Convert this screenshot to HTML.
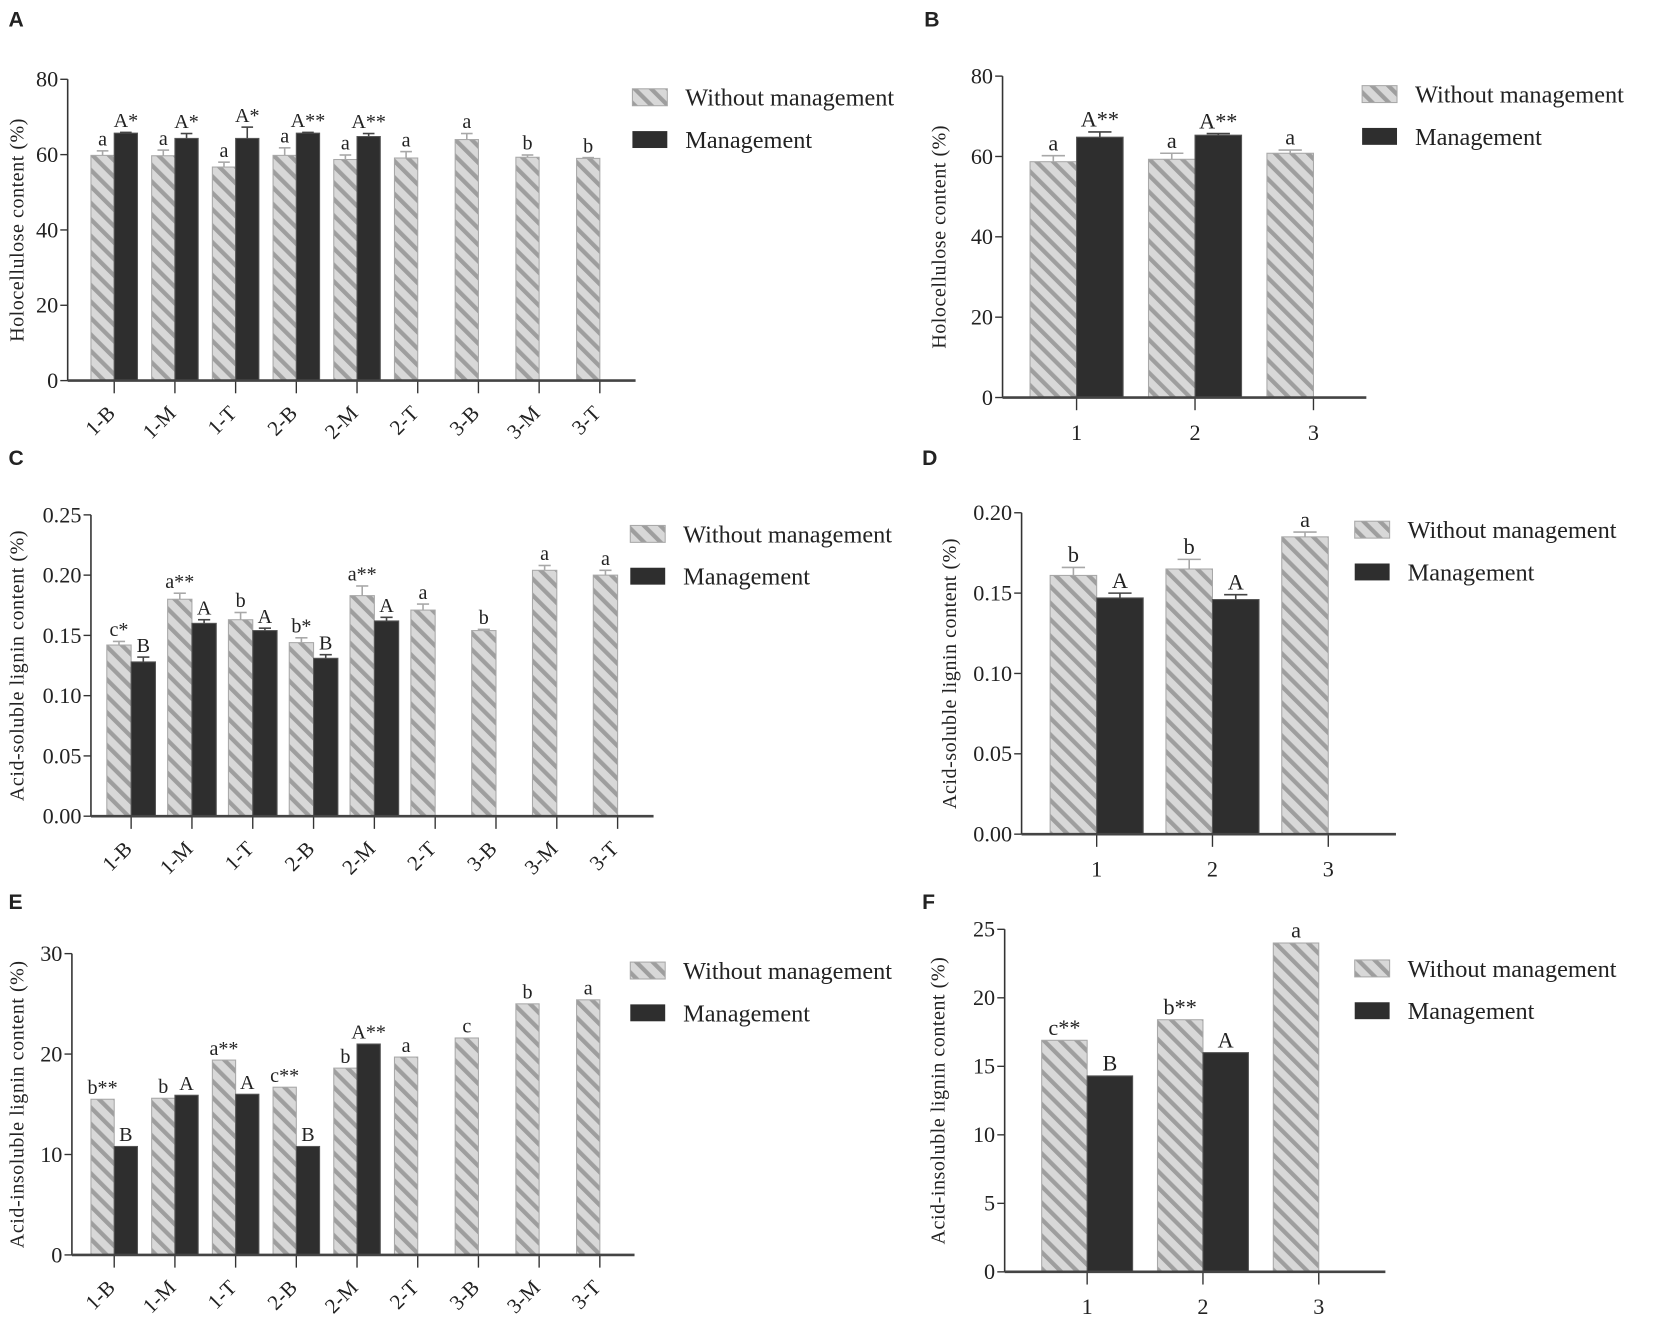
<!DOCTYPE html>
<html><head><meta charset="utf-8"><style>
html,body{margin:0;padding:0;background:#fff;}
svg{display:block;}
text{font-family:"Liberation Serif",serif;fill:#222;}
.lt{font-family:"Liberation Sans",sans-serif;font-weight:bold;font-size:20px;}
</style></head><body>
<svg id="fig" width="1654" height="1330" viewBox="0 0 1564 1258" preserveAspectRatio="none" xmlns="http://www.w3.org/2000/svg">
<defs>
<pattern id="hatch" patternUnits="userSpaceOnUse" width="11" height="11" patternTransform="rotate(-45)">
<rect width="11" height="11" fill="#d8d8d8"/>
<rect x="0" y="0" width="4" height="11" fill="#9e9e9e"/>
</pattern>
</defs>
</svg>
<script>
// Panel A
const aCats=["1-B","1-M","1-T","2-B","2-M","2-T","3-B","3-M","3-T"];
const aWithout=[59.8,59.7,56.7,59.8,58.7,59.1,64.0,59.3,59.0];
const aWithoutErr=[1.2,1.5,1.3,2.0,1.2,1.7,1.6,0.6,0.2];
const aMgmt=[65.7,64.3,64.3,65.7,64.8];
const aMgmtErr=[0.2,1.3,3.0,0.2,0.8];
const aLabW=["a","a","a","a","a","a","a","b","b"];
const aLabM=["A*","A*","A*","A**","A**"];
const aTicks=[0,20,40,60,80];
// Panel B
const bCats=["1","2","3"];
const bWithout=[58.7,59.3,60.8];
const bWithoutErr=[1.5,1.5,0.8];
const bMgmt=[64.8,65.3];
const bMgmtErr=[1.3,0.4];
const bLabW=["a","a","a"];
const bLabM=["A**","A**"];
const bTicks=[0,20,40,60,80];
// Panel C
const cCats=["1-B","1-M","1-T","2-B","2-M","2-T","3-B","3-M","3-T"];
const cWithout=[0.142,0.180,0.163,0.144,0.183,0.171,0.154,0.204,0.200];
const cWithoutErr=[0.003,0.005,0.006,0.004,0.008,0.005,0.001,0.004,0.004];
const cMgmt=[0.128,0.160,0.154,0.131,0.162];
const cMgmtErr=[0.004,0.003,0.002,0.003,0.003];
const cLabW=["c*","a**","b","b*","a**","a","b","a","a"];
const cLabM=["B","A","A","B","A"];
const cTicks=[0,0.05,0.10,0.15,0.20,0.25];
// Panel D
const dCats=["1","2","3"];
const dWithout=[0.161,0.165,0.185];
const dWithoutErr=[0.005,0.006,0.003];
const dMgmt=[0.147,0.146];
const dMgmtErr=[0.003,0.003];
const dLabW=["b","b","a"];
const dLabM=["A","A"];
const dTicks=[0,0.05,0.10,0.15,0.20];
// Panel E
const eCats=["1-B","1-M","1-T","2-B","2-M","2-T","3-B","3-M","3-T"];
const eWithout=[15.5,15.6,19.4,16.7,18.6,19.7,21.6,25.0,25.4];
const eWithoutErr=[0,0,0,0,0,0,0,0,0];
const eMgmt=[10.8,15.9,16.0,10.8,21.0];
const eMgmtErr=[0,0,0,0,0];
const eLabW=["b**","b","a**","c**","b","a","c","b","a"];
const eLabM=["B","A","A","B","A**"];
const eTicks=[0,10,20,30];
// Panel F
const fCats=["1","2","3"];
const fWithout=[16.9,18.4,24.0];
const fWithoutErr=[0,0,0];
const fMgmt=[14.3,16.0];
const fMgmtErr=[0,0];
const fLabW=["c**","b**","a"];
const fLabM=["B","A"];
const fTicks=[0,5,10,15,20,25];

const svg=document.getElementById('fig');
const NS="http://www.w3.org/2000/svg";
function mk(tag,attrs,parent){const e=document.createElementNS(NS,tag);for(const k in attrs)e.setAttribute(k,attrs[k]);(parent||svg).appendChild(e);return e;}

function panel(o){
  const g=mk('g',{});
  
  
  const y=v=>o.y0-(v/o.max)*(o.y0-o.yTop);
  const x=i=>o.x1+i*o.step;
  const L=mk('text',{x:o.lx,y:o.ly,class:'lt'},g);L.textContent=o.id.toUpperCase();
  
  
  o.cats.forEach((c,i)=>{
    const cx=x(i);
    const vw=o.w[i];
    const r=mk('rect',{x:cx-o.bw,y:y(vw),width:o.bw,height:o.y0-y(vw),fill:'url(#hatch)',stroke:'#a8a8a8','stroke-width':1},g);
    
    
    let top=y(vw);
    if(o.we[i]>0){const ty=y(vw+o.we[i]);const cxm=cx-o.bw/2;
      mk('line',{x1:cxm,x2:cxm,y1:top,y2:ty,stroke:'#a8a8a8','stroke-width':1.5},g);
      mk('line',{x1:cxm-o.bw/4,x2:cxm+o.bw/4,y1:ty,y2:ty,stroke:'#a8a8a8','stroke-width':1.5},g);top=ty;}
    const t=mk('text',{x:cx-o.bw/2,y:top-5,'font-size':o.lf,'text-anchor':'middle'},g);t.textContent=o.lw[i];
    
    
    if(i<o.m.length){
      const vm=o.m[i];
      const r2=mk('rect',{x:cx,y:y(vm),width:o.bw,height:o.y0-y(vm),fill:'#2e2e2e',stroke:'#555','stroke-width':1},g);
      
      
      let top2=y(vm);
      if(o.me[i]>0){const ty=y(vm+o.me[i]);const cxm=cx+o.bw/2;
        mk('line',{x1:cxm,x2:cxm,y1:top2,y2:ty,stroke:'#444','stroke-width':1.5},g);
        mk('line',{x1:cxm-o.bw/4,x2:cxm+o.bw/4,y1:ty,y2:ty,stroke:'#444','stroke-width':1.5},g);top2=ty;}
      const t2=mk('text',{x:cx+o.bw/2,y:top2-5,'font-size':o.lf,'text-anchor':'middle'},g);t2.textContent=o.lm[i];
      
      
    }
    mk('line',{x1:cx,x2:cx,y1:o.y0,y2:o.y0+12,stroke:'#333','stroke-width':1.3},g);
    const xl=o.rot?mk('text',{x:cx+2,y:o.y0+32,'font-size':20,'text-anchor':'end',transform:`rotate(-45 ${cx+2} ${o.y0+32})`},g)
                  :mk('text',{x:cx,y:o.y0+40,'font-size':21,'text-anchor':'middle'},g);
    xl.textContent=c;
    
    
  });
  const ya=mk('line',{x1:o.ax,x2:o.ax,y1:o.yTop,y2:o.y0,stroke:'#333','stroke-width':1.5},g);
  
  const xa=mk('line',{x1:o.ax,x2:o.axEnd,y1:o.y0,y2:o.y0,stroke:'#444','stroke-width':2.5},g);
  
  o.ticks.forEach(v=>{
    mk('line',{x1:o.ax-7,x2:o.ax,y1:y(v),y2:y(v),stroke:'#333','stroke-width':1.3},g);
    const tl=mk('text',{x:o.ax-9,y:y(v)+7,'font-size':21,'text-anchor':'end'},g);
    tl.textContent=o.fmt(v);
    
    
  });
  const yt=mk('text',{x:o.ytx,y:(o.y0+o.yTop)/2,'font-size':19,'text-anchor':'middle','letter-spacing':'0.5',transform:`rotate(-90 ${o.ytx} ${(o.y0+o.yTop)/2})`},g);
  yt.textContent=o.title;
  
  
  const lg=mk('g',{},g);
  
  
  mk('rect',{x:o.legX,y:o.legY,width:33,height:16,fill:'url(#hatch)',stroke:'#a8a8a8'},lg);
  const l1=mk('text',{x:o.legX+50,y:o.legY+16,'font-size':23},lg);l1.textContent='Without management';
  
  
  mk('rect',{x:o.legX,y:o.legY+40,width:33,height:16,fill:'#2e2e2e'},lg);
  const l2=mk('text',{x:o.legX+50,y:o.legY+56,'font-size':23},lg);l2.textContent='Management';
  
  
}
const f0=v=>String(v), f2=v=>v.toFixed(2);
panel({id:'a',cats:aCats,w:aWithout,we:aWithoutErr,m:aMgmt,me:aMgmtErr,lw:aLabW,lm:aLabM,ticks:aTicks,max:80,fmt:f0,
  ax:64,axEnd:601,y0:360,yTop:75,x1:108,step:57.4,bw:22,rot:true,lf:19,ytx:22,title:'Holocellulose content (%)',
  lx:8,ly:25,legX:598,legY:84});
panel({id:'b',cats:bCats,w:bWithout,we:bWithoutErr,m:bMgmt,me:bMgmtErr,lw:bLabW,lm:bLabM,ticks:bTicks,max:80,fmt:f0,
  ax:948,axEnd:1292,y0:376,yTop:72,x1:1018,step:112,bw:44,rot:false,lf:21,ytx:894,title:'Holocellulose content (%)',
  lx:874,ly:25,legX:1288,legY:81});
panel({id:'c',cats:cCats,w:cWithout,we:cWithoutErr,m:cMgmt,me:cMgmtErr,lw:cLabW,lm:cLabM,ticks:cTicks,max:0.25,fmt:f2,
  ax:86,axEnd:618,y0:772,yTop:487,x1:124,step:57.5,bw:23,rot:true,lf:19,ytx:22,title:'Acid-soluble lignin content (%)',
  lx:8,ly:440,legX:596,legY:497});
panel({id:'d',cats:dCats,w:dWithout,we:dWithoutErr,m:dMgmt,me:dMgmtErr,lw:dLabW,lm:dLabM,ticks:dTicks,max:0.20,fmt:f2,
  ax:966,axEnd:1320,y0:789,yTop:485,x1:1037,step:109.5,bw:44,rot:false,lf:21,ytx:904,title:'Acid-soluble lignin content (%)',
  lx:872,ly:440,legX:1281,legY:493});
panel({id:'e',cats:eCats,w:eWithout,we:eWithoutErr,m:eMgmt,me:eMgmtErr,lw:eLabW,lm:eLabM,ticks:eTicks,max:30,fmt:f0,
  ax:68,axEnd:600,y0:1187,yTop:902,x1:108,step:57.4,bw:22,rot:true,lf:19,ytx:22,title:'Acid-insoluble lignin content (%)',
  lx:8,ly:860,legX:596,legY:910});
panel({id:'f',cats:fCats,w:fWithout,we:fWithoutErr,m:fMgmt,me:fMgmtErr,lw:fLabW,lm:fLabM,ticks:fTicks,max:25,fmt:f0,
  ax:950,axEnd:1310,y0:1203,yTop:879,x1:1028,step:109.5,bw:43,rot:false,lf:21,ytx:893,title:'Acid-insoluble lignin content (%)',
  lx:872,ly:860,legX:1281,legY:908});
</script>
</body></html>
